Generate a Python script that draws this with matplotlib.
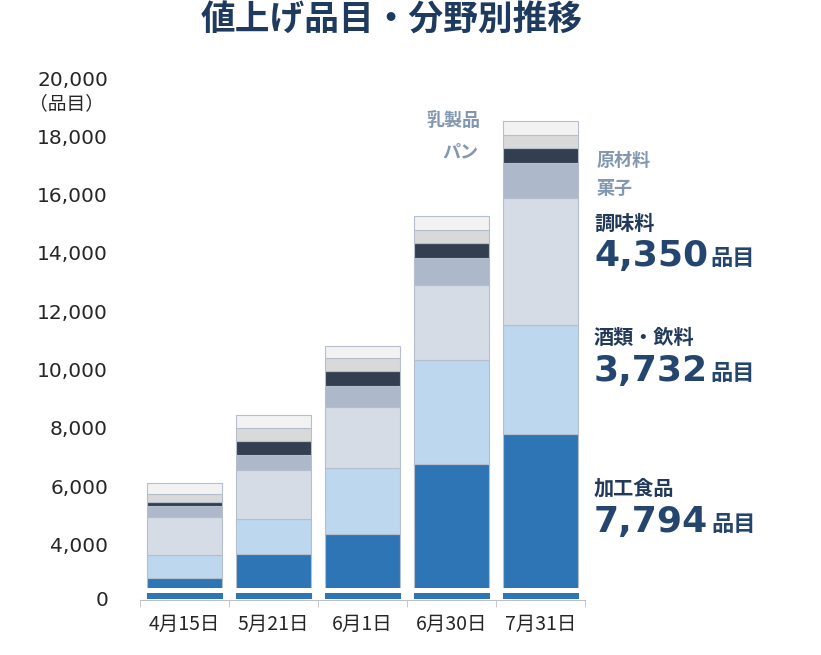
import matplotlib.pyplot as plt
import numpy as np

plt.rcParams['font.family'] = ['Noto Sans CJK JP', 'DejaVu Sans']

# data (品目数)
dates = ['4月15日', '5月21日', '6月1日', '6月30日', '7月31日']
kakou = [2860, 3680, 4340, 6740, 7794]       # 加工食品
sake = [760, 1200, 2270, 3600, 3732]         # 酒類・飲料
choumi = [1310, 1655, 2115, 2570, 4350]      # 調味料
kashi = [400, 515, 720, 910, 1200]           # 菓子
genzai = [105, 490, 515, 515, 515]           # 原材料
pan = [295, 460, 435, 460, 460]              # パン
nyu = [375, 420, 400, 455, 480]              # 乳製品

series = [kakou, sake, choumi, kashi, genzai, pan, nyu]
colors = ['#2E75B6', '#BDD7EE', '#D6DCE5', '#ADB9CA', '#333F50', '#D9D9D9', '#F2F2F2']

W, H = 821, 655


def box(l, t, r, b):
    return [l / W, 1 - b / H, (r - l) / W, (b - t) / H]


fig = plt.figure(figsize=(W / 100, H / 100), dpi=100)
ax = fig.add_axes(box(140, 78, 585, 588))
ax_lo = fig.add_axes(box(140, 593, 585, 598.5))

x = np.arange(len(dates))
for a in (ax, ax_lo):
    bottom = np.zeros(len(dates))
    for vals, c in zip(series, colors):
        a.bar(x, vals, 0.84, bottom=bottom, color=c,
              edgecolor='#B4BECC' if a is ax else c, linewidth=0.8)
        bottom += vals
    a.set_xlim(-0.5, 4.5)
    for s in a.spines.values():
        s.set_visible(False)
    a.tick_params(axis='y', length=0, pad=23, labelsize=14.5, labelcolor='#262626')

ax.set_ylim(2500, 20000)
ax.set_xticks([])
ticks = list(range(4000, 20001, 2000))
ax.set_yticks(ticks, [f'{t:,}' for t in ticks], fontfamily='DejaVu Sans')

ax_lo.set_ylim(0, 170)
ax_lo.set_yticks([0], ['0'], fontfamily='DejaVu Sans')
ax_lo.spines['bottom'].set_visible(True)
ax_lo.spines['bottom'].set_color('#BFBFBF')
ax_lo.spines['bottom'].set_position(('outward', 1))
ax_lo.set_xticks(x, dates)
ax_lo.set_xticks(np.arange(-0.5, 5, 1), minor=True)
ax_lo.tick_params(axis='x', which='major', length=0, pad=10, labelsize=14, labelcolor='#262626')
ax_lo.tick_params(axis='x', which='minor', length=5, color='#BFBFBF')

fig.text(392 / W, 1 - 20 / H, '値上げ品目・分野別推移', fontsize=25, fontweight='bold',
         color='#1F3A5F', ha='center', va='center')
fig.text(66 / W, 1 - 104 / H, '（品目）', fontsize=13.5, color='#262626', ha='center', va='center')

# labels to the right
light = '#8497B0'
dark = '#22395A'
num = '#24466E'
fig.text(453 / W, 1 - 120 / H, '乳製品', fontsize=13, fontweight='bold', color=light, ha='center', va='center')
fig.text(460 / W, 1 - 152 / H, 'パン', fontsize=13, fontweight='bold', color=light, ha='center', va='center')
fig.text(597 / W, 1 - 160 / H, '原材料', fontsize=13, fontweight='bold', color=light, va='center')
fig.text(597 / W, 1 - 188 / H, '菓子', fontsize=13, fontweight='bold', color=light, va='center')

big = [('調味料', '4,350', 223, 256), ('酒類・飲料', '3,732', 337, 371), ('加工食品', '7,794', 488, 522)]
for name, n, yn, yv in big:
    fig.text(594 / W, 1 - yn / H, name, fontsize=14.5, fontweight='bold', color=dark, va='center')
    t = fig.text(594 / W, 1 - yv / H, n, fontsize=26, fontweight='bold', color=num, va='center',
                 fontfamily='DejaVu Sans')
    plt.annotate('品目', xy=(1, 0.1), xycoords=t, xytext=(2, 0), textcoords='offset points',
                 fontsize=16, fontweight='bold', color=num, va='bottom', ha='left')

fig.savefig('out.png', dpi=100, facecolor='white')
